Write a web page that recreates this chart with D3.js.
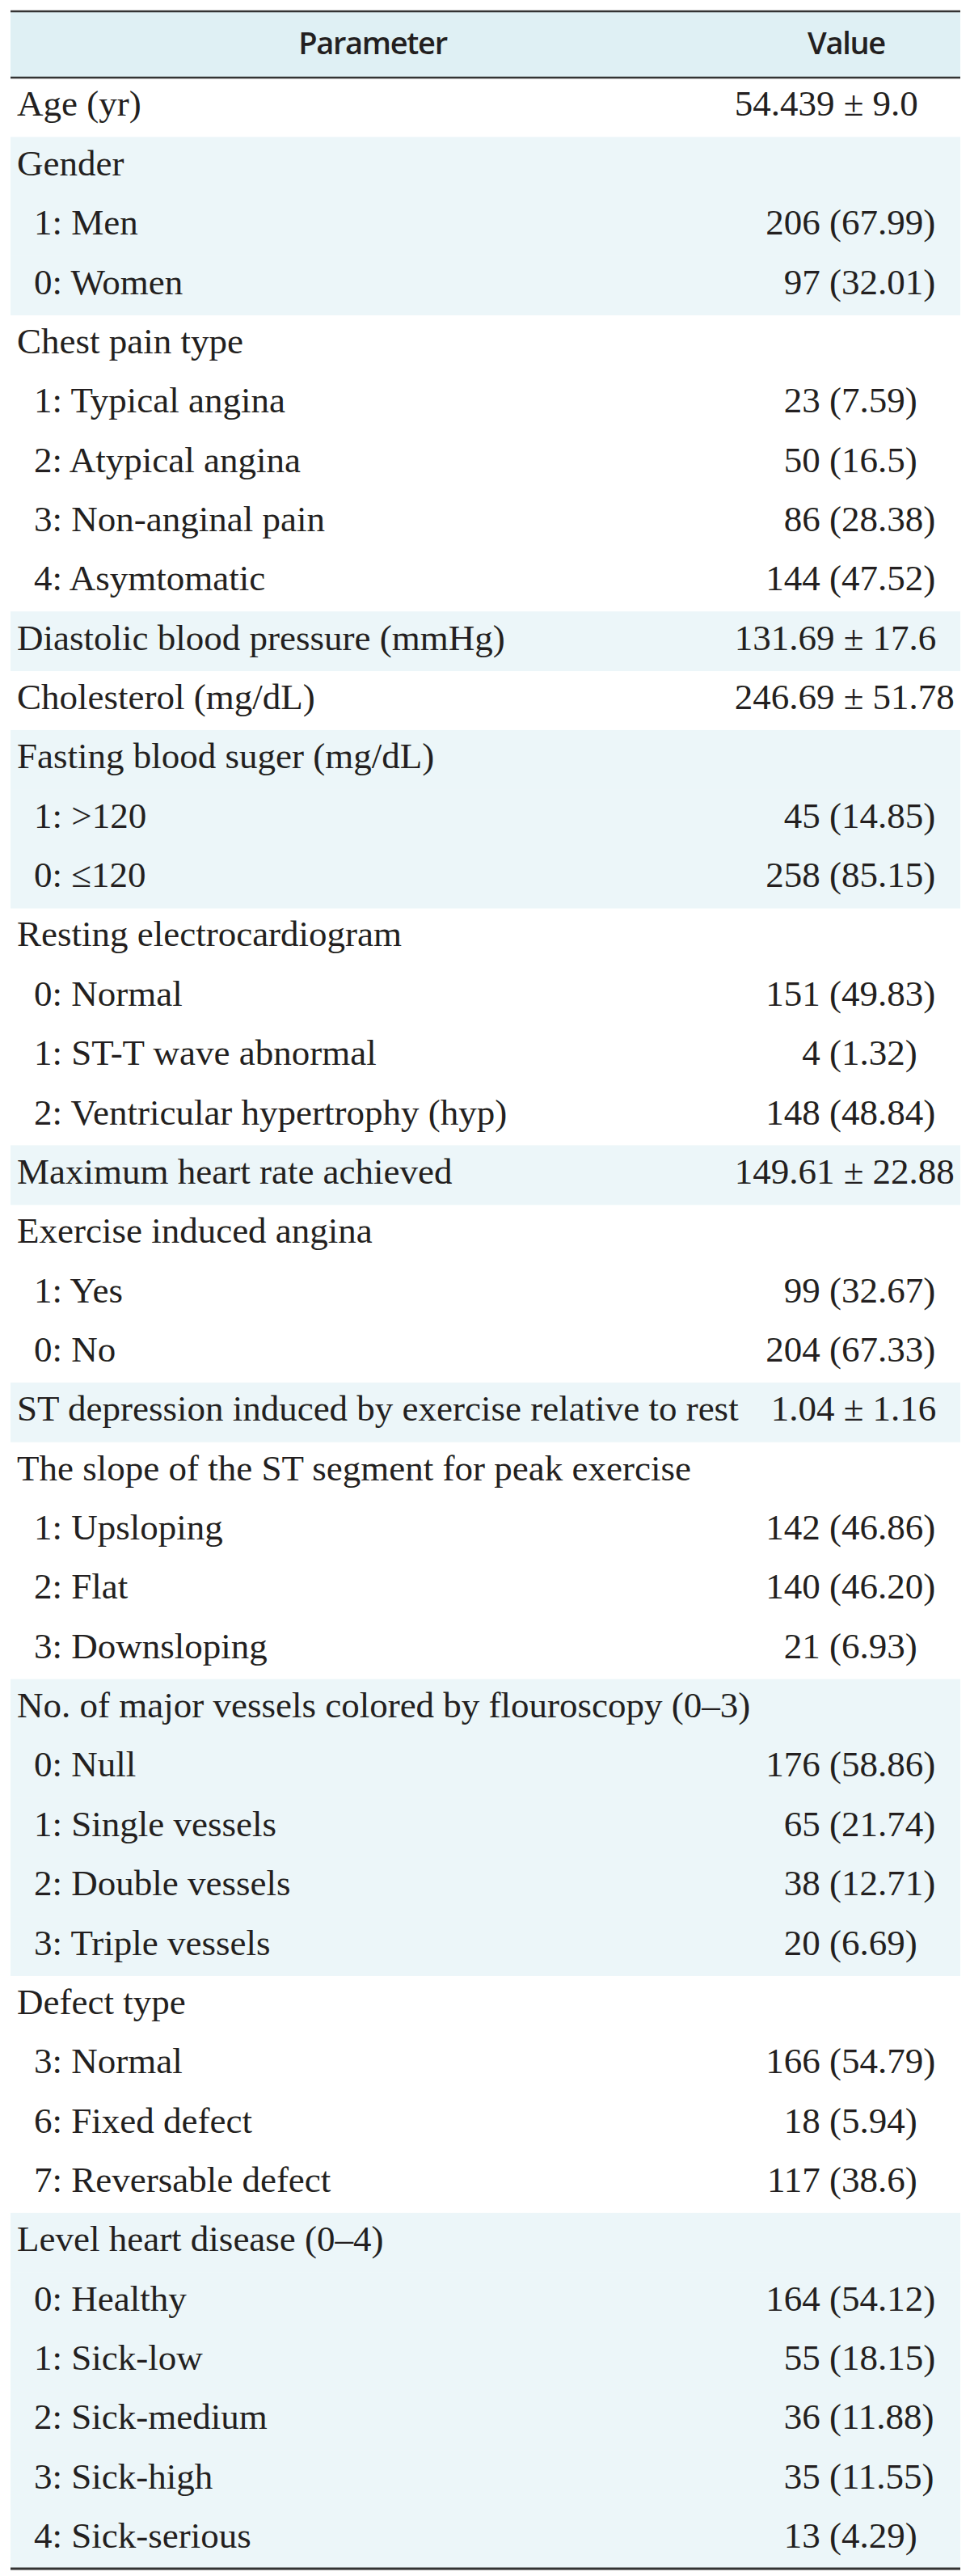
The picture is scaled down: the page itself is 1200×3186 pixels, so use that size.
<!DOCTYPE html>
<html>
<head>
<meta charset="utf-8">
<script src="https://cdn.jsdelivr.net/npm/d3@7"></script>
<style>
  body { margin: 0; background: #fff; }
  svg { display: block; }
</style>
</head>
<body>
<svg id="tbl"></svg>
<script>
// table content
const headers = ["Parameter", "Value"];

const rowLabels = [
  "Age (yr)",
  "Gender", "1: Men", "0: Women",
  "Chest pain type", "1: Typical angina", "2: Atypical angina", "3: Non-anginal pain", "4: Asymtomatic",
  "Diastolic blood pressure (mmHg)",
  "Cholesterol (mg/dL)",
  "Fasting blood suger (mg/dL)", "1: >120", "0: \u2264120",
  "Resting electrocardiogram", "0: Normal", "1: ST-T wave abnormal", "2: Ventricular hypertrophy (hyp)",
  "Maximum heart rate achieved",
  "Exercise induced angina", "1: Yes", "0: No",
  "ST depression induced by exercise relative to rest",
  "The slope of the ST segment for peak exercise", "1: Upsloping", "2: Flat", "3: Downsloping",
  "No. of major vessels colored by flouroscopy (0\u20133)", "0: Null", "1: Single vessels", "2: Double vessels", "3: Triple vessels",
  "Defect type", "3: Normal", "6: Fixed defect", "7: Reversable defect",
  "Level heart disease (0\u20134)", "0: Healthy", "1: Sick-low", "2: Sick-medium", "3: Sick-high", "4: Sick-serious"
];

const rowValues = [
  "54.439 \u00b1 9.0",
  "", "206 (67.99)", "97 (32.01)",
  "", "23 (7.59)", "50 (16.5)", "86 (28.38)", "144 (47.52)",
  "131.69 \u00b1 17.6",
  "246.69 \u00b1 51.78",
  "", "45 (14.85)", "258 (85.15)",
  "", "151 (49.83)", "4 (1.32)", "148 (48.84)",
  "149.61 \u00b1 22.88",
  "", "99 (32.67)", "204 (67.33)",
  "1.04 \u00b1 1.16",
  "", "142 (46.86)", "140 (46.20)", "21 (6.93)",
  "", "176 (58.86)", "65 (21.74)", "38 (12.71)", "20 (6.69)",
  "", "166 (54.79)", "18 (5.94)", "117 (38.6)",
  "", "164 (54.12)", "55 (18.15)", "36 (11.88)", "35 (11.55)", "13 (4.29)"
];

// 0 = parameter, 1 = sub category
const rowIndent = [
  0,
  0, 1, 1,
  0, 1, 1, 1, 1,
  0,
  0,
  0, 1, 1,
  0, 1, 1, 1,
  0,
  0, 1, 1,
  0,
  0, 1, 1, 1,
  0, 1, 1, 1, 1,
  0, 1, 1, 1,
  0, 1, 1, 1, 1, 1
];

let WIDTH = 1200, HEIGHT = 3186;
let LEFT = 13, RIGHT = 1188;
let TOP = 14, HEAD_BOTTOM = 96, BOTTOM = 3177;
let PAREN_X = 1026;   // left edge of "(" in value column
let PM_X = 1056;      // centre of "±" in value column

const svg = d3.select('#tbl').attr('width', WIDTH).attr('height', HEIGHT);

// group index: a new group starts at every top level row
let g = -1;
const rows = rowLabels.map((label, i) => {
  if (rowIndent[i] === 0) g++;
  return {i: i, label: label, value: rowValues[i], indent: rowIndent[i], group: g};
});

const yScale = d3.scaleBand()
  .domain(rows.map(d => d.i))
  .range([HEAD_BOTTOM, BOTTOM])
  .paddingInner(0);

const colScale = d3.scaleOrdinal()
  .domain(headers)
  .range([461, 1047]);

// header background
svg.append('rect')
  .attr('x', LEFT).attr('y', TOP)
  .attr('width', RIGHT - LEFT).attr('height', HEAD_BOTTOM - TOP)
  .attr('fill', '#dff0f4');

// shaded groups
svg.append('g')
  .selectAll('rect')
  .data(rows.filter(d => d.group % 2 === 1))
  .join('rect')
  .attr('x', LEFT)
  .attr('y', d => yScale(d.i))
  .attr('width', RIGHT - LEFT)
  .attr('height', yScale.bandwidth() + 0.5)
  .attr('fill', '#ecf6f9');

// header text
svg.append('g')
  .selectAll('text')
  .data(headers)
  .join('text')
  .attr('x', d => colScale(d))
  .attr('y', (TOP + HEAD_BOTTOM) / 2 + 12)
  .attr('text-anchor', 'middle')
  .attr('font-family', '"Open Sans", sans-serif')
  .attr('font-size', 38)
  .attr('font-weight', 600)
  .attr('letter-spacing', -1.3)
  .attr('fill', '#231f20')
  .text(d => d);

const FS = 45;
const baseline = d => yScale(d.i) + yScale.bandwidth() / 2 + FS * 0.24;

// parameter column
svg.append('g')
  .selectAll('text')
  .data(rows)
  .join('text')
  .attr('x', d => d.indent ? 42 : 21)
  .attr('y', baseline)
  .attr('font-family', '"Liberation Serif", "Times New Roman", serif')
  .attr('font-size', FS)
  .attr('fill', '#231f20')
  .text(d => d.label);

// value column, aligned on "(" or "±"
svg.append('g')
  .selectAll('text')
  .data(rows.filter(d => d.value !== ''))
  .join('text')
  .attr('y', baseline)
  .attr('font-family', '"Liberation Serif", "Times New Roman", serif')
  .attr('font-size', FS)
  .attr('fill', '#231f20')
  .text(d => d.value)
  .each(function(d) {
    let idx = d.value.indexOf('(');
    let node = this;
    if (idx >= 0) {
      let pre = idx > 0 ? node.getSubStringLength(0, idx) : 0;
      d3.select(node).attr('x', PAREN_X - pre);
    } else {
      idx = d.value.indexOf('\u00b1');
      let pre = node.getSubStringLength(0, idx);
      let w = node.getSubStringLength(idx, 1);
      d3.select(node).attr('x', PM_X - pre - w / 2);
    }
  });

// rules
const rules = [
  {y: TOP, w: 2.5},
  {y: HEAD_BOTTOM, w: 2.5},
  {y: BOTTOM, w: 3}
];
svg.append('g')
  .selectAll('line')
  .data(rules)
  .join('line')
  .attr('x1', LEFT).attr('x2', RIGHT)
  .attr('y1', d => d.y).attr('y2', d => d.y)
  .attr('stroke', '#333')
  .attr('stroke-width', d => d.w);
</script>
</body>
</html>
